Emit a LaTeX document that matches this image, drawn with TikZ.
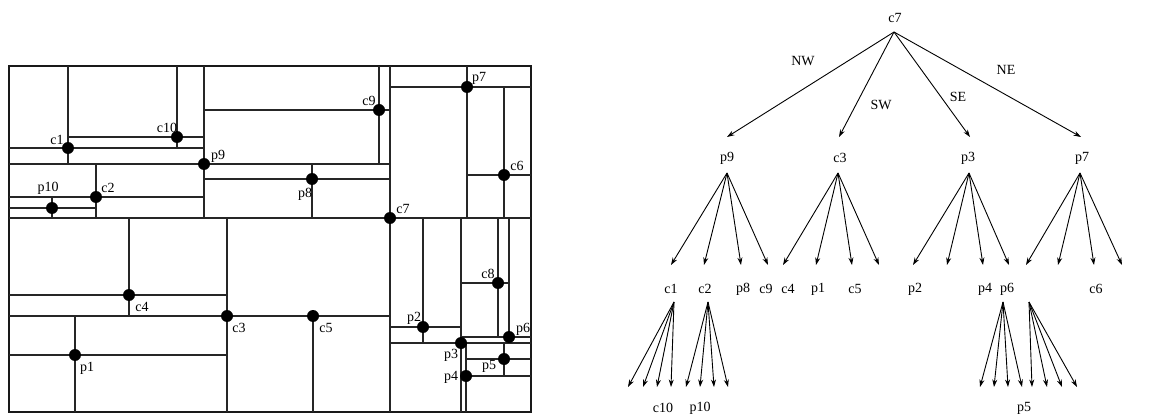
\documentclass[tikz,border=0pt]{standalone}
\usepackage{fontspec}
\setmainfont{Liberation Serif}
\usetikzlibrary{arrows.meta}
\begin{document}
\begin{tikzpicture}[x=1pt,y=-1pt,
  part/.style={line width=1.2pt, black!85},
  outer/.style={line width=1.6pt, black!90},
  dot/.style={circle,fill=black,inner sep=0pt,minimum size=12pt},
  lbl/.style={font=\fontsize{14}{16}\selectfont, inner sep=0pt},
  arr/.style={-{Stealth[length=7.5pt,width=5pt]}, line width=0.9pt}]
\useasboundingbox (0,0) rectangle (1151,414);
% ---------- partition ----------
\draw[outer] (9,66) rectangle (531,412);
% c7
\draw[part] (390,66) -- (390,412); \draw[part] (9,218) -- (531,218);
% p9
\draw[part] (204,66) -- (204,218); \draw[part] (9,164) -- (390,164);
% c1
\draw[part] (68,66) -- (68,164); \draw[part] (9,148) -- (204,148);
% c10
\draw[part] (177,66) -- (177,148); \draw[part] (68,137) -- (204,137);
% c2
\draw[part] (96,164) -- (96,218); \draw[part] (9,197) -- (204,197);
% p10
\draw[part] (52,197) -- (52,218); \draw[part] (9,208) -- (96,208);
% p8
\draw[part] (312,164) -- (312,218); \draw[part] (204,179) -- (390,179);
% c9
\draw[part] (379,66) -- (379,164); \draw[part] (204,110) -- (390,110);
% c3
\draw[part] (227,218) -- (227,412); \draw[part] (9,316) -- (390,316);
% c4
\draw[part] (129,218) -- (129,316); \draw[part] (9,295) -- (227,295);
% p1
\draw[part] (75,316) -- (75,412); \draw[part] (9,355) -- (227,355);
% c5
\draw[part] (313,316) -- (313,412);
% p3
\draw[part] (461,218) -- (461,412); \draw[part] (390,343) -- (531,343);
% p2
\draw[part] (423,218) -- (423,343); \draw[part] (390,327) -- (461,327);
% p4
\draw[part] (466,343) -- (466,412); \draw[part] (461,376) -- (531,376);
% p5
\draw[part] (504,343) -- (504,376); \draw[part] (466,359) -- (531,359);
% p6
\draw[part] (509,218) -- (509,343); \draw[part] (461,337) -- (531,337);
% c8
\draw[part] (498,218) -- (498,337); \draw[part] (461,283) -- (509,283);
% p7
\draw[part] (467,66) -- (467,218); \draw[part] (390,87) -- (531,87);
% c6
\draw[part] (504,87) -- (504,218); \draw[part] (467,175) -- (531,175);
% dots
\node[dot] (dc7) at (390,218) {};
\node[dot] (dp9) at (204,164) {};
\node[dot] (dc1) at (68,148) {};
\node[dot] (dc10) at (177,137) {};
\node[dot] (dc2) at (96,197) {};
\node[dot] (dp10) at (52,208) {};
\node[dot] (dp8) at (312,179) {};
\node[dot] (dc9) at (379,110) {};
\node[dot] (dc3) at (227,316) {};
\node[dot] (dc4) at (129,295) {};
\node[dot] (dp1) at (75,355) {};
\node[dot] (dc5) at (313,316) {};
\node[dot] (dp3) at (461,343) {};
\node[dot] (dp2) at (423,327) {};
\node[dot] (dp4) at (466,376) {};
\node[dot] (dp5) at (504,359) {};
\node[dot] (dp6) at (509,337) {};
\node[dot] (dc8) at (498,283) {};
\node[dot] (dp7) at (467,87) {};
\node[dot] (dc6) at (504,175) {};
% point labels
\node[lbl] (lc1) at (57,140) {c1};
\node[lbl] (lc10) at (167,128) {c10};
\node[lbl] (lp10) at (48,188) {p10};
\node[lbl] (lc2) at (108,188) {c2};
\node[lbl] (lp9) at (218,156) {p9};
\node[lbl] (lc9) at (369,101) {c9};
\node[lbl] (lp8) at (305,194) {p8};
\node[lbl] (lp7) at (479,78) {p7};
\node[lbl] (lc6) at (517,166) {c6};
\node[lbl] (lc7) at (403,209) {c7};
\node[lbl] (lc4) at (142,307) {c4};
\node[lbl] (lp1) at (87,368) {p1};
\node[lbl] (lc3) at (239,328) {c3};
\node[lbl] (lc5) at (326,328) {c5};
\node[lbl] (lc8) at (488,274) {c8};
\node[lbl] (lp2) at (414,318) {p2};
\node[lbl] (lp3) at (451,355) {p3};
\node[lbl] (lp6) at (523,329) {p6};
\node[lbl] (lp5) at (489,366) {p5};
\node[lbl] (lp4) at (451,377) {p4};
% ---------- tree ----------
\node[lbl] (tc7) at (895,18) {c7};
\node[lbl] (tp9) at (727,158) {p9};
\node[lbl] (tc3) at (840,158) {c3};
\node[lbl] (tp3) at (968,158) {p3};
\node[lbl] (tp7) at (1082,158) {p7};
\node[lbl] (tc1) at (671,289) {c1};
\node[lbl] (tc2) at (705,289) {c2};
\node[lbl] (tp8) at (743,289) {p8};
\node[lbl] (tc9) at (766,289) {c9};
\node[lbl] (tc4) at (788,289) {c4};
\node[lbl] (tp1) at (818,289) {p1};
\node[lbl] (tc5) at (855,289) {c5};
\node[lbl] (tp2) at (915,289) {p2};
\node[lbl] (tp4) at (985,289) {p4};
\node[lbl] (tp6) at (1007,289) {p6};
\node[lbl] (tc6) at (1096,289) {c6};
\node[lbl] (tc10) at (663,408) {c10};
\node[lbl] (tp10) at (700,408) {p10};
\node[lbl] (tp5) at (1024,408) {p5};
% edge labels
\node[lbl] (eNW) at (803,61) {NW};
\node[lbl] (eSW) at (881,105) {SW};
\node[lbl] (eSE) at (958,97) {SE};
\node[lbl] (eNE) at (1006,70) {NE};
% arrow origins and tips
\coordinate (oc7) at (894,32);
\coordinate (op9) at (727,173);
\coordinate (oc3) at (838,173);
\coordinate (op3) at (969,173);
\coordinate (op7) at (1080,173);
\coordinate (oc1) at (674,302);
\coordinate (oc2) at (708,302);
\coordinate (op4) at (1003,302);
\coordinate (op6) at (1029,302);
\draw[arr] (oc7) -- (727,137) coordinate (a1);
\draw[arr] (oc7) -- (839,137) coordinate (a2);
\draw[arr] (oc7) -- (970,137) coordinate (a3);
\draw[arr] (oc7) -- (1081,137) coordinate (a4);
\foreach \o/\a/\b/\c/\d in {op9/671/704/741/768, oc3/783/816/852/879, op3/913/947/983/1009, op7/1026/1058/1094/1122}{
  \draw[arr] (\o) -- (\a,265);
  \draw[arr] (\o) -- (\b,265);
  \draw[arr] (\o) -- (\c,265);
  \draw[arr] (\o) -- (\d,265);
}
\foreach \o/\a/\b/\c/\d in {oc1/628/643/657/671, oc2/686/700/714/728, op4/980/994/1008/1022, op6/1032/1047/1062/1077}{
  \draw[arr] (\o) -- (\a,387);
  \draw[arr] (\o) -- (\b,387);
  \draw[arr] (\o) -- (\c,387);
  \draw[arr] (\o) -- (\d,387);
}
\end{tikzpicture}
\end{document}
